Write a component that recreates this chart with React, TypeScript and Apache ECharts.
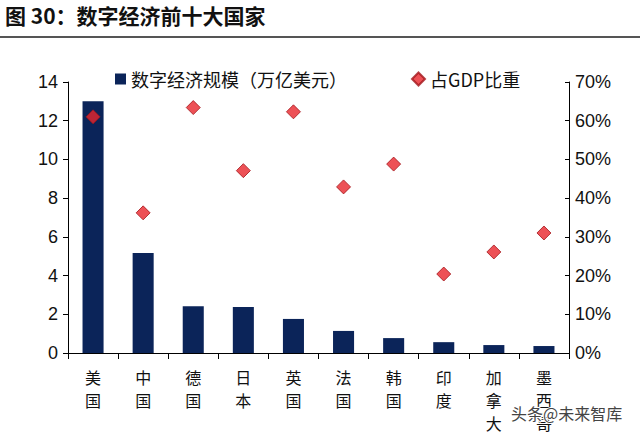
import React, { useEffect, useRef } from "react";
import * as echarts from "echarts";

const categories = ["美国", "中国", "德国", "日本", "英国", "法国", "韩国", "印度", "加拿大", "墨西哥"];
const scaleValues = [13.0, 5.17, 2.42, 2.37, 1.76, 1.14, 0.77, 0.56, 0.41, 0.36];
const gdpShare = [61.0, 36.2, 63.4, 47.1, 62.3, 42.9, 48.8, 20.4, 26.1, 31.0];
const leftTicks = { min: 0, max: 14, interval: 2 };
const rightTicks = { min: 0, max: 70, interval: 10 };

const FONT = "'Noto Sans CJK SC', 'Noto Sans', sans-serif";
const NUMFONT = "'Liberation Sans', Arial, sans-serif";

export default function App() {
  const ref = useRef<HTMLDivElement>(null);
  useEffect(() => {
    if (!ref.current) return;
    const chart = echarts.init(ref.current, undefined, { renderer: "svg" });
    chart.setOption({
      animation: false,
      backgroundColor: "#ffffff",
      graphic: [
        {
          type: "text",
          left: 5,
          top: 4,
          style: { text: "图 30：数字经济前十大国家", font: `bold 21px ${FONT}`, fill: "#111" },
        },
        {
          type: "line",
          shape: { x1: 0, y1: 37, x2: 640, y2: 37 },
          style: { stroke: "#555", lineWidth: 2 },
        },
        {
          type: "text",
          left: 510,
          top: 404,
          z: 100,
          style: { text: "头条@未来智库", font: `16px ${FONT}`, fill: "#444", stroke: "#fff", lineWidth: 2 },
        },
      ],
      grid: { left: 68, right: 71, top: 82, bottom: 83 },
      legend: [
        {
          data: [{ name: "数字经济规模（万亿美元）", icon: "rect" }],
          left: 110,
          top: 65,
          itemWidth: 11,
          itemHeight: 11,
          textStyle: { fontSize: 18, color: "#111", fontFamily: FONT },
        },
        {
          data: [{ name: "占GDP比重", icon: "diamond" }],
          left: 406,
          top: 65,
          itemWidth: 13,
          itemHeight: 13,
          textStyle: { fontSize: 18, color: "#111", fontFamily: FONT },
        },
      ],
      xAxis: {
        type: "category",
        data: categories,
        axisLine: { lineStyle: { color: "#000", width: 1 } },
        axisTick: { show: true, length: 6, lineStyle: { color: "#000" } },
        axisLabel: {
          color: "#111",
          fontSize: 16,
          fontFamily: FONT,
          lineHeight: 23,
          margin: 12,
          interval: 0,
          formatter: (v: string) => v.split("").join("\n"),
        },
      },
      yAxis: [
        {
          type: "value",
          ...leftTicks,
          axisLine: { show: true, lineStyle: { color: "#000" } },
          axisTick: { show: true, length: 5, lineStyle: { color: "#000" } },
          splitLine: { show: false },
          axisLabel: { color: "#111", fontSize: 18, fontFamily: NUMFONT, margin: 10 },
        },
        {
          type: "value",
          ...rightTicks,
          position: "right",
          axisLine: { show: true, lineStyle: { color: "#000" } },
          axisTick: { show: true, inside: true, length: 4, lineStyle: { color: "#000" } },
          splitLine: { show: false },
          axisLabel: { color: "#111", fontSize: 18, fontFamily: NUMFONT, margin: 6, formatter: "{value}%" },
        },
      ],
      series: [
        {
          name: "数字经济规模（万亿美元）",
          type: "bar",
          data: scaleValues,
          barWidth: "42%",
          itemStyle: { color: "#0b2459" },
          yAxisIndex: 0,
        },
        {
          name: "占GDP比重",
          type: "scatter",
          data: gdpShare,
          yAxisIndex: 1,
          symbol: "diamond",
          symbolSize: 14,
          itemStyle: { color: "#e8262c", borderColor: "#a3151a", borderWidth: 1 },
        },
      ],
    });
    return () => chart.dispose();
  }, []);
  return <div ref={ref} style={{ width: 640, height: 436, position: "absolute", left: 0, top: 0 }} />;
}
